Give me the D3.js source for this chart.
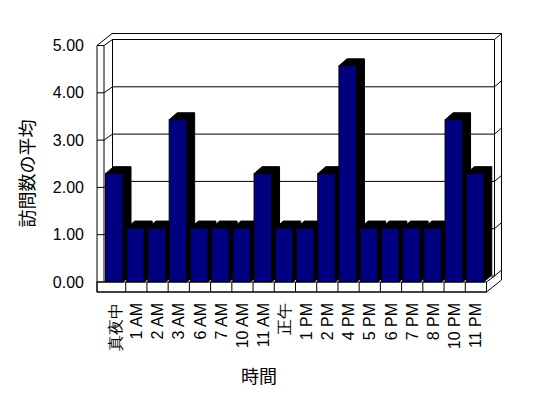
<!DOCTYPE html>
<html lang="ja">
<head>
<meta charset="UTF-8">
<title>訪問数の平均</title>
<script src="https://cdn.jsdelivr.net/npm/d3@7/dist/d3.min.js"></script>
<style>
  body { margin: 0; background: #fff; }
  svg { display: block; font-family: "Liberation Sans", Arial, "Noto Sans CJK JP", sans-serif; }
  .line { fill: none; stroke: #000; stroke-width: 1; }
</style>
</head>
<body>
<div id="chart"></div>
<script>
var hours = ["真夜中", "1 AM", "2 AM", "3 AM", "6 AM", "7 AM", "10 AM", "11 AM", "正午",
             "1 PM", "2 PM", "4 PM", "5 PM", "6 PM", "7 PM", "8 PM", "10 PM", "11 PM"];
var visits = [2.29, 1.14, 1.14, 3.43, 1.14, 1.14, 1.14, 2.29, 1.14,
              1.14, 2.29, 4.57, 1.14, 1.14, 1.14, 1.14, 3.43, 2.29];
var yTicks = [0, 1, 2, 3, 4, 5];

var w = 548, h = 398;
var left = 97, inner = 104, right = 486.5, floorY = 292;
var d1 = [8.5, -6];   // front -> back wall face
var d2 = [15, -12];   // front -> back of the back wall
var db = [8, -7];     // bar depth

var svg = d3.select("#chart").append("svg")
  .attr("width", w).attr("height", h);
svg.append("rect").attr("width", w).attr("height", h).attr("fill", "#fff");

var x = d3.scaleBand().domain(hours).range([104.5, right]);
var y = d3.scaleLinear().domain([0, 5]).range([282, 45.5]);

var top5 = y(5), y0 = y(0);

// walls
var walls = svg.append("g").attr("class", "walls");
walls.append("path").attr("class", "line")
  .attr("d", "M" + left + "," + floorY + "V" + top5 + "L" + (left + d2[0]) + "," + (top5 + d2[1]) +
             "H" + (right + d2[0]) + "V" + (floorY + d2[1]) + "L" + right + "," + floorY + "Z");
walls.append("path").attr("class", "line")
  .attr("d", "M" + inner + "," + y0 + "V" + top5);
walls.append("path").attr("class", "line")
  .attr("d", "M" + (inner + d1[0]) + "," + (y0 + d1[1]) + "V" + (top5 + d1[1]));
walls.append("path").attr("class", "line")
  .attr("d", "M" + (right + d1[0] - 0.5) + "," + (y0 + d1[1]) + "V" + (top5 + d1[1]));
walls.append("path").attr("class", "line")
  .attr("d", "M" + inner + "," + y0 + "L" + (inner + d1[0]) + "," + (y0 + d1[1]));

// gridlines across left wall, back wall and its right edge
walls.selectAll(".grid").data(yTicks).enter().append("path")
  .attr("class", "line grid")
  .attr("d", function(d) {
    var yy = y(d);
    return "M" + left + "," + yy + "H" + inner +
           "L" + (inner + d1[0]) + "," + (yy + d1[1]) +
           "H" + (right + d1[0] - 0.5) +
           "L" + (right + d2[0]) + "," + (yy + d2[1]);
  });

// floor right side
walls.append("path").attr("class", "line")
  .attr("d", "M" + right + "," + y0 + "L" + (right + d1[0] - 0.5) + "," + (y0 + d1[1]));

// bars
var bw = 17.5;
var bars = svg.append("g").selectAll("g").data(hours).enter().append("g");
bars.append("path")
  .attr("fill", "#000")
  .attr("stroke", "#000")
  .attr("d", function(d, i) {
    var xl = x(d) + 1, xr = xl + bw, yt = y(visits[i]);
    return "M" + xl + "," + yt + "L" + (xl + db[0]) + "," + (yt + db[1]) +
           "H" + (xr + db[0]) + "V" + (y0 + db[1]) + "L" + xr + "," + y0 + "V" + yt + "Z";
  });
bars.append("rect")
  .attr("fill", "#000080")
  .attr("stroke", "#000")
  .attr("x", function(d) { return x(d) + 1; })
  .attr("y", function(d, i) { return y(visits[i]); })
  .attr("width", bw)
  .attr("height", function(d, i) { return y0 - y(visits[i]); });

// floor front face with category dividers
svg.append("rect").attr("class", "line").attr("fill", "#fff")
  .attr("x", left).attr("y", y0).attr("width", right - left).attr("height", floorY - y0);
svg.append("g").selectAll("line").data(hours.slice(1)).enter().append("line")
  .attr("class", "line")
  .attr("x1", function(d) { return x(d); }).attr("x2", function(d) { return x(d); })
  .attr("y1", y0).attr("y2", floorY);

// value axis labels
var yAxis = svg.append("g")
  .attr("transform", "translate(" + left + ",0)")
  .call(d3.axisLeft(y).tickValues(yTicks).tickFormat(d3.format(".2f")).tickSize(0).tickPadding(13));
yAxis.select(".domain").remove();
yAxis.selectAll("text").attr("font-size", 16).attr("font-family", null).attr("fill", "#000");

// category labels
var xAxis = svg.append("g")
  .attr("transform", "translate(0," + floorY + ")")
  .call(d3.axisBottom(x).tickSize(0));
xAxis.select(".domain").remove();
xAxis.selectAll("text")
  .attr("font-size", 16).attr("font-family", null).attr("fill", "#000")
  .attr("transform", "rotate(-90)")
  .attr("text-anchor", "end")
  .attr("x", -11).attr("y", 0).attr("dy", "0.35em");

// titles
svg.append("text")
  .attr("transform", "translate(28,173.5) rotate(-90)")
  .attr("text-anchor", "middle").attr("dy", "0.35em")
  .attr("font-size", 18)
  .text("訪問数の平均");
svg.append("text")
  .attr("x", 259).attr("y", 377)
  .attr("text-anchor", "middle").attr("dy", "0.35em")
  .attr("font-size", 18)
  .text("時間");
</script>
</body>
</html>
